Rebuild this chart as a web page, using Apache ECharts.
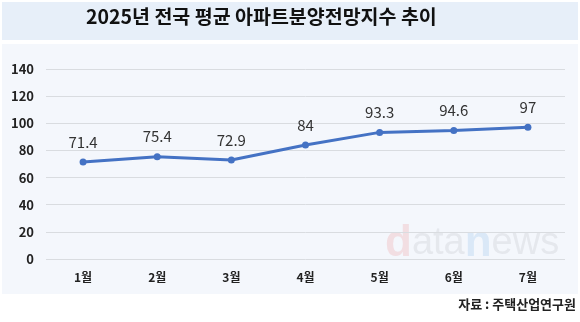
<!DOCTYPE html>
<html><head><meta charset="utf-8">
<script src="https://cdn.jsdelivr.net/npm/echarts@6/dist/echarts.min.js"></script>
<style>html,body{margin:0;padding:0;background:#fff}#c{width:580px;height:322px}</style>
</head><body><div id="c"></div>
<script>
const categories = ['1월','2월','3월','4월','5월','6월','7월'];
const values = [71.4, 75.4, 72.9, 84, 93.3, 94.6, 97];
const titleText = '2025년 전국 평균 아파트분양전망지수 추이';
const sourceText = '자료 : 주택산업연구원';
const chart = echarts.init(document.getElementById('c'));
const font = '"Noto Sans CJK KR", "Noto Sans", sans-serif';
chart.setOption({
  animation: false,
  backgroundColor: '#ffffff',
  graphic: [
    {type:'rect', shape:{x:2,y:2,width:576,height:38}, style:{fill:'#e7eff9'}, z:-10},
    {type:'rect', shape:{x:2,y:44,width:576,height:250}, style:{fill:'#f4f7fc'}, z:-10},
    {type:'text', left:86, top:7, style:{text:titleText, font:'bold 19.5px '+font, fill:'#111'}},
    {type:'text', right:4, top:298, style:{text:sourceText, font:'bold 13px '+font, fill:'#222'}},
    {type:'text', left:385, top:222, z:-5, style:{
      text:'{d|d}{g|ata}{n|n}{g|ews}',
      rich:{
        d:{font:'bold 44px Arial, sans-serif', fill:'rgba(235,110,110,0.18)'},
        n:{font:'bold 44px Arial, sans-serif', fill:'rgba(100,165,230,0.18)'},
        g:{font:'38px Arial, sans-serif', fill:'rgba(120,120,130,0.12)'}
      }
    }}
  ],
  grid: {left:46, right:15, top:69, bottom:63},
  xAxis: {
    type:'category', data: categories, boundaryGap:true,
    axisLine:{show:false}, axisTick:{show:false},
    axisLabel:{color:'#222', fontWeight:'bold', fontSize:12, fontFamily:font, margin:12}
  },
  yAxis: {
    type:'value', min:0, max:140, interval:20,
    axisLine:{show:false}, axisTick:{show:false},
    axisLabel:{color:'#222', fontWeight:'bold', fontSize:13, fontFamily:font, margin:12},
    splitLine:{lineStyle:{color:'#d9dce0', width:1}}
  },
  series: [{
    type:'line', data: values,
    symbol:'circle', symbolSize:7,
    lineStyle:{color:'#4472c4', width:3},
    itemStyle:{color:'#4472c4'},
    label:{show:true, position:'top', distance:9, color:'#333', fontSize:15, fontFamily:font}
  }]
});
</script></body></html>
